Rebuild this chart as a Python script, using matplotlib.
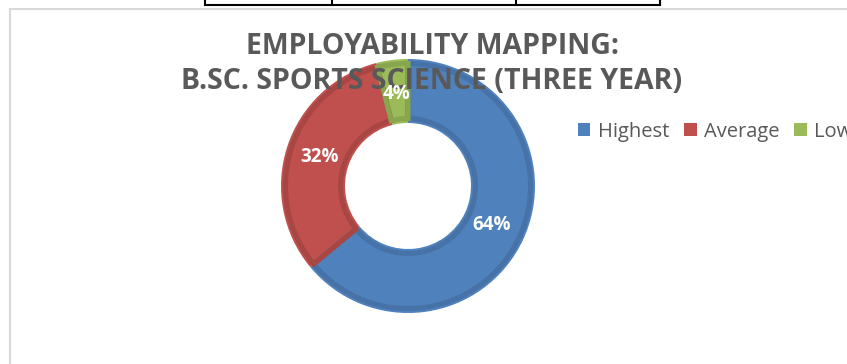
import matplotlib
matplotlib.use("Agg")
import matplotlib.pyplot as plt
from matplotlib.lines import Line2D
from matplotlib.patches import Rectangle

W, H = 847, 364
DPI = 100

# data
categories = ["Highest", "Average", "Low"]
shares = [64, 32, 4]
title_text = "EMPLOYABILITY MAPPING:\nB.SC. SPORTS SCIENCE (THREE YEAR)"

fills = ["#4F81BD", "#C0504D", "#9BBB59"]
rims = ["#4672A7", "#A84643", "#88A64D"]
grey = "#595959"

plt.rcParams["font.family"] = ["Open Sans", "DejaVu Sans"]

fig = plt.figure(figsize=(W / DPI, H / DPI), dpi=DPI)


def px(x, y):
    # pixel coords (top-left origin) -> figure fraction
    return x / W, 1 - y / H


# chart frame
fig.patches.append(Rectangle(px(10, 400), (W + 20) / W, 391 / H, transform=fig.transFigure,
                             fill=False, edgecolor="#D9D9D9", linewidth=1.5))

# bits of the table above the chart
for seg in [((205, 660), (5, 5)), ((205, 205), (0, 5)), ((332, 332), (0, 5)),
            ((516, 516), (0, 5)), ((660, 660), (0, 5))]:
    xs = [seg[0][0] / W, seg[0][1] / W]
    ys = [1 - seg[1][0] / H, 1 - seg[1][1] / H]
    fig.add_artist(Line2D(xs, ys, color="black", linewidth=1.5, transform=fig.transFigure))

# donut
cx, cy, R, r = 408, 186, 127, 63
ax = fig.add_axes([(cx - R) / W, (H - cy - R) / H, 2 * R / W, 2 * R / H])
ax.set_aspect("equal")
ring = (R - r) / R
wedges, texts, autotexts = ax.pie(
    shares, colors=fills, startangle=90, counterclock=False, radius=1,
    wedgeprops=dict(width=ring, edgecolor="none"),
    autopct="%d%%", pctdistance=0.73,
    textprops=dict(color="white", fontsize=13.5, fontweight="bold", zorder=5))

inset = 4.5 / R
ax.pie(shares, colors=["none"] * 3, startangle=90, counterclock=False, radius=1 - inset,
       wedgeprops=dict(width=ring - 2 * inset, facecolor="none", linewidth=3.6))
for w, c in zip(ax.patches[len(shares):], rims):
    w.set_edgecolor(c)
    w.set_facecolor("none")
ax.set_xlim(-1, 1)
ax.set_ylim(-1, 1)

# title sits over the donut, the percentage labels over the title
ax.text(*px(432, 64), title_text, transform=fig.transFigure, ha="center", va="center",
        fontsize=20.5, fontweight="bold", color=grey, linespacing=1.3,
        zorder=4, clip_on=False)

handles = [Rectangle((0, 0), 1, 1, facecolor=c, edgecolor="none") for c in fills]
fig.legend(handles, categories, loc="center left", bbox_to_anchor=px(578, 132),
           ncol=3, frameon=False, fontsize=14.5, labelcolor=grey,
           handlelength=0.62, handleheight=0.62, handletextpad=0.35, columnspacing=0.75,
           borderaxespad=0, borderpad=0)

fig.savefig("out.png", dpi=DPI)
